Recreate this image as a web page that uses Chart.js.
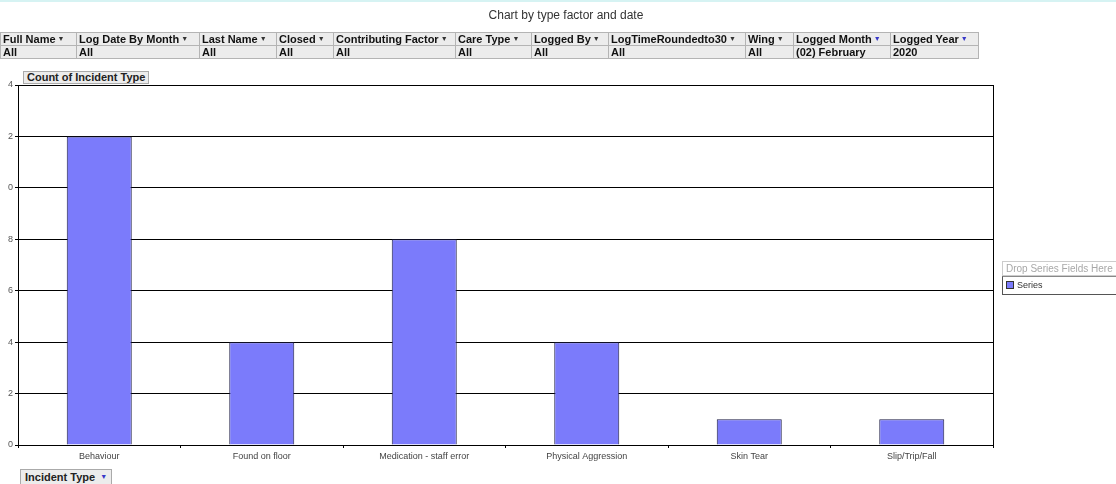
<!DOCTYPE html>
<html>
<head>
<meta charset="utf-8">
<script src="https://cdn.jsdelivr.net/npm/chart.js@4"></script>
<style>
  body { margin: 0; background: #fff; font-family: "Liberation Sans", Arial, sans-serif; }
  #wrap { position: relative; width: 1116px; height: 484px; overflow: hidden; border-top: 2px solid #d6f3f3; box-sizing: border-box; }
  #chart { position: absolute; left: 0; top: -2px; }
  .title { position: absolute; top: 6px; left: 0; width: 1132px; text-align: center; font-size: 12px; color: #333; }
  table.filters { position: absolute; left: 0; top: 30px; border-collapse: collapse; table-layout: fixed; }
  table.filters td { border: 1px solid #b4b4b4; background: #ececec; font-size: 11px; font-weight: bold; height: 12px; line-height: 12px; padding: 0 0 0 2px; white-space: nowrap; overflow: hidden; color: #111; }
  .arr { font-size: 7px; color: #333; vertical-align: 2px; margin-left: 2px; }
  .arr.blue { color: #3838c8; }
  .fieldbox { position: absolute; border: 1px solid #aaa; background: #ececec; font-size: 11px; font-weight: bold; line-height: 11px; padding: 0 3px; color: #222; }
  .legend { position: absolute; left: 1002px; top: 259px; width: 130px; }
  .legend .hdr { border: 1px solid #ccc; font-size: 10px; color: #a8a8a8; padding: 1px 3px; height: 11px; line-height: 11px; }
  .legend .row { border: 1px solid #555; border-top: 1px solid #888; font-size: 9px; color: #333; padding: 3px 3px; height: 11px; line-height: 11px; }
  .legend .sw { display: inline-block; width: 6px; height: 6px; background: #7b7bfb; border: 1px solid #333; margin-right: 3px; vertical-align: -1px; }
</style>
</head>
<body>
<div id="wrap">
  <canvas id="chart" width="1116" height="484"></canvas>
  <div class="title">Chart by type factor and date</div>
  <table class="filters" id="filters"></table>
  <div class="fieldbox" style="left:23px; top:69px;">Count of Incident Type</div>
  <div class="fieldbox" style="left:20px; top:467px; padding:1px 4px;">Incident Type <span class="arr blue">&#9660;</span></div>
  <div class="legend">
    <div class="hdr">Drop Series Fields Here</div>
    <div class="row"><span class="sw"></span>Series</div>
  </div>
</div>
<script>
// Incident counts, February 2020
const categories = ['Behaviour', 'Found on floor', 'Medication - staff error', 'Physical Aggression', 'Skin Tear', 'Slip/Trip/Fall'];
const counts = [12, 4, 8, 4, 1, 1];
// tick labels as they show on the axis (leading digit is clipped)
const yTickLabels = ['0', '2', '4', '6', '8', '0', '2', '4'];
const seriesNames = ['Series'];

// Filter fields
const filterFields = ['Full Name', 'Log Date By Month', 'Last Name', 'Closed', 'Contributing Factor', 'Care Type', 'Logged By', 'LogTimeRoundedto30', 'Wing', 'Logged Month', 'Logged Year'];
const filterValues = ['All', 'All', 'All', 'All', 'All', 'All', 'All', 'All', 'All', '(02) February', '2020'];
const colWidths = [76, 123, 77, 57, 122, 76, 77, 137, 48, 97, 88];

function buildFilters() {
    const t = document.getElementById('filters');
    let html = '<colgroup>' + colWidths.map(w => `<col style="width:${w}px">`).join('') + '</colgroup>';
    html += '<tr>' + filterFields.map((f, i) =>
        `<td>${f}<span class="arr${i >= 9 ? ' blue' : ''}">&#9660;</span></td>`).join('') + '</tr>';
    html += '<tr>' + filterValues.map(v => `<td>${v}</td>`).join('') + '</tr>';
    t.innerHTML = html;
}

// border round the plot area
const frame = {
    id: 'frame',
    afterDraw(chart) {
        const a = chart.chartArea, ctx = chart.ctx;
        ctx.save();
        ctx.strokeStyle = '#000';
        ctx.lineWidth = 1;
        ctx.strokeRect(Math.round(a.left) + 0.5, Math.round(a.top) + 0.5, Math.round(a.right - a.left), Math.round(a.bottom - a.top));
        ctx.restore();
    }
};

buildFilters();

new Chart(document.getElementById('chart'), {
    type: 'bar',
    data: {
        labels: categories,
        datasets: [{
            label: seriesNames[0],
            data: counts,
            backgroundColor: '#7b7bfb',
            borderColor: '#1e1e44',
            borderWidth: 1,
            barPercentage: 0.4,
            categoryPercentage: 1
        }]
    },
    options: {
        responsive: false,
        animation: false,
        layout: { padding: { left: 0, right: 123, top: 85, bottom: 19 } },
        plugins: { legend: { display: false }, tooltip: { enabled: false } },
        scales: {
            x: {
                afterFit: s => { s.height = 20; },
                grid: { offset: true, drawOnChartArea: false, drawTicks: true, tickLength: 3, color: '#000' },
                border: { color: '#000' },
                ticks: { font: { family: 'Liberation Sans', size: 9 }, color: '#444', padding: 3, maxRotation: 0 }
            },
            y: {
                min: 0,
                max: 14,
                afterFit: s => { s.width = 18; },
                grid: { color: '#000', tickLength: 3 },
                border: { color: '#000' },
                ticks: {
                    stepSize: 2,
                    font: { family: 'Liberation Sans', size: 9 },
                    color: '#555',
                    padding: 2,
                    callback: (v, i) => yTickLabels[i]
                }
            }
        }
    },
    plugins: [frame]
});
</script>
</body>
</html>
